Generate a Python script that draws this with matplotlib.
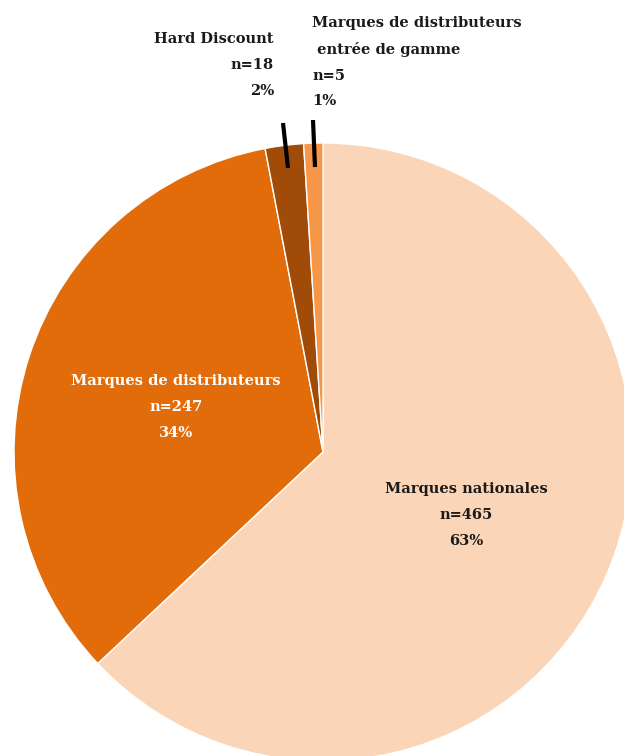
import matplotlib.pyplot as plt

# parts de marché par type de marque
labels = ['Marques nationales', 'Marques de distributeurs', 'Hard Discount',
          'Marques de distributeurs\n entrée de gamme']
counts = [465, 247, 18, 5]
pcts = [63, 34, 2, 1]
colors = ['#FBD5B7', '#E36C0A', '#A04C08', '#F79646']

plt.rcParams['font.family'] = ['DejaVu Serif']

fig = plt.figure(figsize=(6.24, 7.56), dpi=100)
ax = fig.add_axes([0, 0, 1, 1])

ax.pie(pcts, colors=colors, startangle=90, counterclock=False,
       center=(323, 304), radius=309,
       wedgeprops=dict(edgecolor='white', linewidth=1))

# repère en pixels : le camembert déborde à droite et en bas
ax.set_xlim(0, 624)
ax.set_ylim(0, 756)
ax.set_aspect('equal')
ax.axis('off')

kw = dict(fontsize=10.5, fontweight='bold', linespacing=2.05, va='center')

# étiquettes à l'intérieur des parts
ax.text(466, 241, f'{labels[0]}\nn={counts[0]}\n{pcts[0]}%',
        ha='center', color='#1a1a1a', **kw)
ax.text(176, 349, f'{labels[1]}\nn={counts[1]}\n{pcts[1]}%',
        ha='center', color='white', **kw)

# petites parts : étiquettes au-dessus avec traits de rappel
ax.text(274, 691, f'{labels[2]}\nn={counts[2]}\n{pcts[2]}%',
        ha='right', color='#1a1a1a', **kw)
ax.text(312, 694, f'{labels[3]}\nn={counts[3]}\n{pcts[3]}%',
        ha='left', color='#1a1a1a', **kw)
ax.plot([283, 288], [633, 588], color='black', lw=3, solid_capstyle='butt')
ax.plot([313, 315], [636, 589], color='black', lw=3, solid_capstyle='butt')

fig.savefig('out.png', dpi=100)
